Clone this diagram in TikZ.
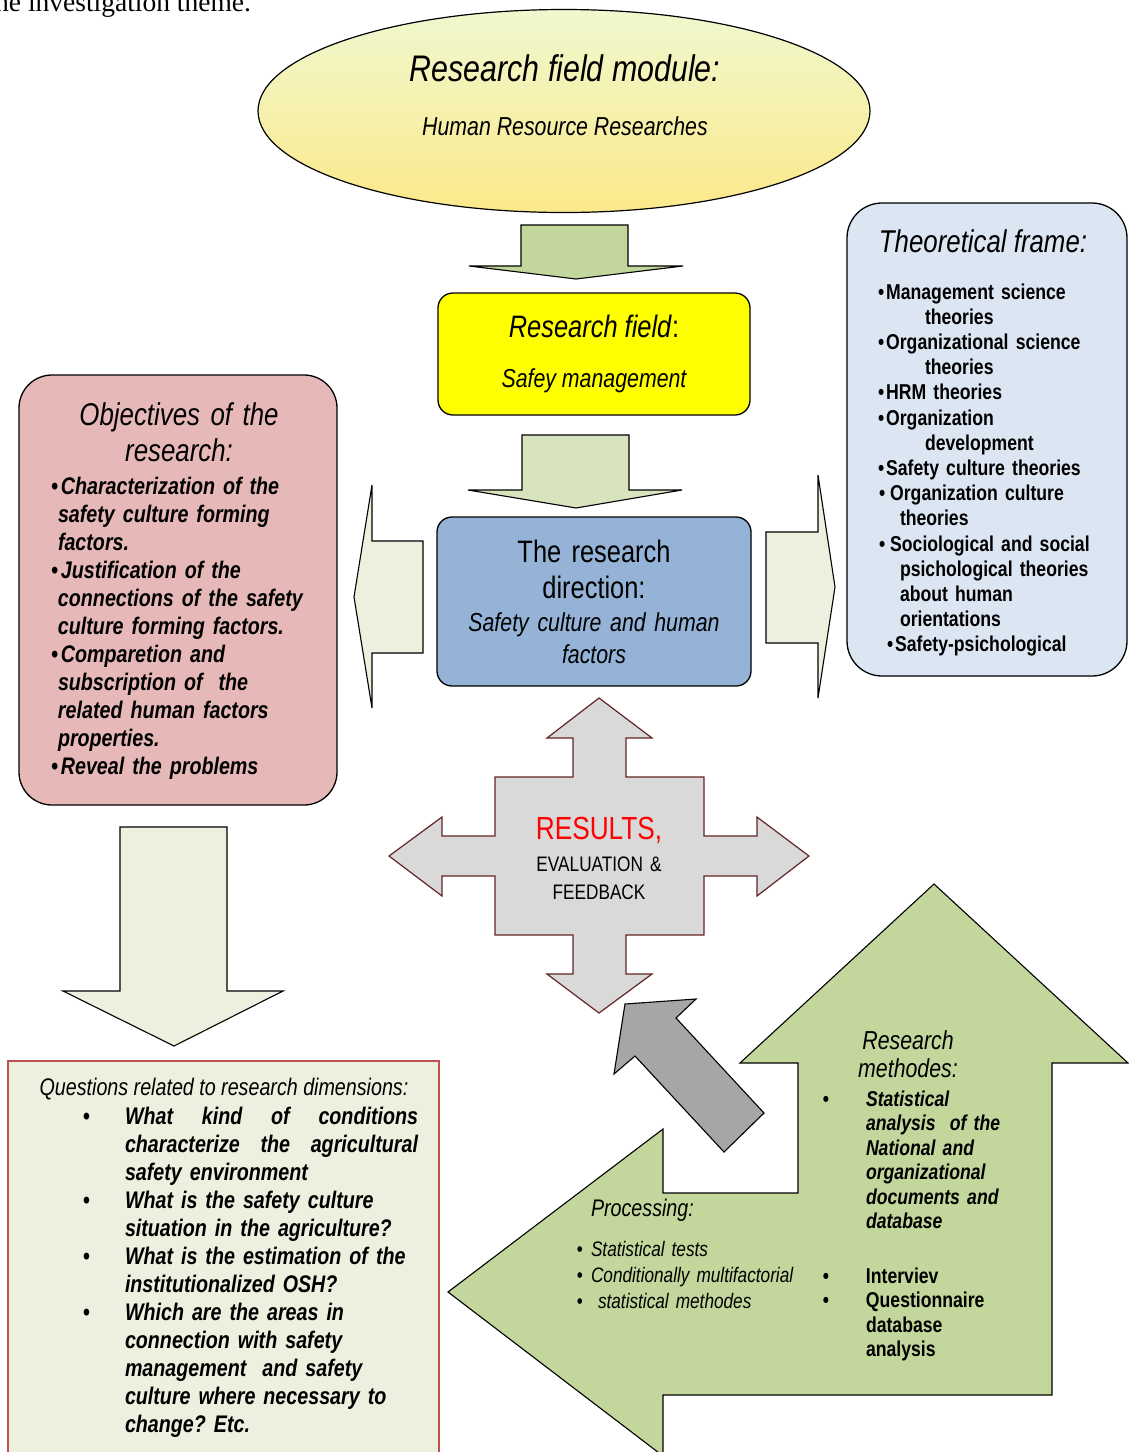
\documentclass[tikz,border=0pt]{standalone}
\usepackage{fontspec}
\setmainfont{Liberation Sans}[FakeStretch=0.82]
\newfontfamily\pagefont{Liberation Serif}
\usetikzlibrary{positioning, shapes.geometric, calc}
\frenchspacing

\definecolor{modtop}{HTML}{F0F8CF}
\definecolor{modbot}{HTML}{FCE98A}
\definecolor{fieldyellow}{HTML}{FFFF00}
\definecolor{dirblue}{HTML}{95B3D7}
\definecolor{objpink}{HTML}{E6B9B8}
\definecolor{theoblue}{HTML}{DCE6F2}
\definecolor{palegreen}{HTML}{EBF1DE}
\definecolor{midgreen}{HTML}{D7E4BD}
\definecolor{olive}{HTML}{C3D69B}
\definecolor{resgray}{HTML}{D9D9D9}
\definecolor{resedge}{HTML}{632523}
\definecolor{qedge}{HTML}{C0504D}
\definecolor{arrgray}{HTML}{A6A6A6}

\newcommand{\fsz}[2]{\fontsize{#1}{#2}\selectfont}
% bullet hung to the left of the text column
\newcommand{\hangbul}[1]{\leavevmode\llap{\upshape•\hspace{#1}}}

\begin{document}
\begin{tikzpicture}[
    x=1pt, y=-1pt,
    rbox/.style={draw, line width=1.3pt, rounded corners=15pt, inner sep=0pt},
    txt/.style={inner sep=0pt, outer sep=0pt},
    blk/.style={draw, line width=1.1pt, line join=miter},
]
\useasboundingbox (0,0) rectangle (1128,1452);

% ── page text above the figure ───────────────────────────────────────────────
\node[txt, anchor=base east, font=\pagefont\fsz{27.5}{30}] (theme) at (251,11)
    {the investigation theme.};

% ── research field module (ellipse) ──────────────────────────────────────────
\node[ellipse, draw, line width=1.2pt, inner sep=0pt, minimum width=612pt,
      minimum height=203pt, top color=modtop, bottom color=modbot] (mod) at (564,111) {};
\node[txt, anchor=base, font=\fsz{37}{44}\itshape] (modtitle) at (565,81)
    {Research field module:};
\node[txt, anchor=base, font=\fsz{26}{31}\itshape] (modsub) at (565,135)
    {Human Resource Researches};

\draw[blk, fill=olive] (521,225) -- (628,225) -- (628,266) -- (683,266)
    -- (576,279) -- (469,266) -- (521,266) -- cycle;

% ── research field ───────────────────────────────────────────────────────────
\node[rbox, fill=fieldyellow, minimum width=312pt, minimum height=122pt] (field) at (594,354) {};
\node[txt, anchor=base, font=\fsz{31}{36}] (fieldtitle) at (594,337)
    {\textit{Research field}:};
\node[txt, anchor=base, font=\fsz{26}{31}\itshape] (fieldsub) at (594,387)
    {Safey management};

\draw[blk, fill=midgreen] (522,435) -- (629,435) -- (629,490) -- (682,490)
    -- (576,508) -- (468,490) -- (522,490) -- cycle;

% ── research direction ───────────────────────────────────────────────────────
\node[rbox, fill=dirblue, minimum width=314pt, minimum height=169pt] (dir) at (594,601.5) {};
\node[txt, anchor=base, align=center, text width=300pt, font=\fsz{31}{36}] (dirtitle) at (594,562)
    {The research\\direction:};
\node[txt, anchor=base, align=center, text width=300pt, font=\fsz{26}{32}\itshape] (dirsub) at (594,631)
    {Safety culture and human\\factors};

% side arrows
\draw[blk, fill=palegreen] (423,541) -- (372,541) -- (372,485) -- (354,597)
    -- (372,708) -- (372,653) -- (423,653) -- cycle;
\draw[blk, fill=palegreen] (766,532) -- (818,532) -- (818,475) -- (835,587)
    -- (818,698) -- (818,643) -- (766,643) -- cycle;

% ── objectives ───────────────────────────────────────────────────────────────
\node[rbox, rounded corners=33pt, fill=objpink, minimum width=318pt, minimum height=430pt] (obj) at (178,590) {};
\node[txt, anchor=base, align=center, text width=300pt, font=\fsz{31.5}{36.5}\itshape] (objtitle) at (179,425)
    {Objectives of the\\research:};
\node[txt, anchor=base west, align=left, text width=285pt, font=\fsz{24}{28}\bfseries\itshape] (objlist) at (51,494)
    {•\kern3pt Characterization of the\\
     \hspace*{7pt}safety culture forming\\
     \hspace*{7pt}factors.\\
     •\kern3pt Justification of the\\
     \hspace*{7pt}connections of the safety\\
     \hspace*{7pt}culture forming factors.\\
     •\kern3pt Comparetion and\\
     \hspace*{7pt}subscription of\ \ the\\
     \hspace*{7pt}related human factors\\
     \hspace*{7pt}properties.\\
     •\kern3pt Reveal the problems};

% ── theoretical frame ────────────────────────────────────────────────────────
\node[rbox, rounded corners=35pt, fill=theoblue, minimum width=280pt, minimum height=473pt] (theo) at (987,439.5) {};
\node[txt, anchor=base, font=\fsz{31.5}{36}\itshape] (theotitle) at (983,252)
    {Theoretical frame:};
\node[txt, anchor=base west, align=left, text width=240pt, font=\fsz{21.5}{25.2}\bfseries] (theolist) at (878,299)
    {•\kern2pt Management science\\
     \hspace*{47pt}theories\\
     •\kern2pt Organizational science\\
     \hspace*{47pt}theories\\
     •\kern2pt HRM theories\\
     •\kern2pt Organization\\
     \hspace*{47pt}development\\
     •\kern2pt Safety culture theories\\
     \hspace*{1pt}•\kern5pt Organization culture\\
     \hspace*{22pt}theories\\
     \hspace*{1pt}•\kern5pt Sociological and social\\
     \hspace*{22pt}psichological theories\\
     \hspace*{22pt}about human\\
     \hspace*{22pt}orientations\\
     \hspace*{9pt}•\kern2pt Safety-psichological};

% ── results, evaluation & feedback ───────────────────────────────────────────
\draw[line width=1.2pt, draw=resedge, fill=resgray, line join=miter]
    (599,698) -- (652,738) -- (626,738) -- (626,777) -- (704,777) -- (704,836)
    -- (757,836) -- (757,817) -- (809,856) -- (757,896) -- (757,876) -- (704,876)
    -- (704,935) -- (626,935) -- (626,974) -- (652,974) -- (599,1013) -- (547,974)
    -- (573,974) -- (573,935) -- (495,935) -- (495,876) -- (442,876) -- (442,896)
    -- (389,856) -- (442,817) -- (442,836) -- (495,836) -- (495,777) -- (573,777)
    -- (573,738) -- (547,738) -- cycle;
\node[txt, anchor=base, text=red, font=\fsz{32}{36}] (res) at (599,839) {RESULTS,};
\node[txt, anchor=base, align=center, text width=180pt, font=\fsz{21}{28}] (evalfb) at (599,871)
    {EVALUATION \&\\FEEDBACK};

% ── questions ────────────────────────────────────────────────────────────────
\draw[blk, fill=palegreen] (120,827) -- (227,827) -- (227,991) -- (283,991)
    -- (174,1046) -- (63,991) -- (120,991) -- cycle;

\draw[line width=1.2pt, draw=qedge, fill=palegreen] (8,1061) rectangle (439,1470);
\node[txt, anchor=base, font=\fsz{24}{28}\itshape] (qtitle) at (224,1095)
    {Questions related to research dimensions:};
\node[txt, anchor=base west, align=left, text width=293pt, font=\fsz{24}{28}\bfseries\itshape] (qlist) at (125,1124)
    {\hangbul{35pt}What\hfill kind\hfill of\hfill conditions\\
     characterize\hfill the\hfill agricultural\\
     safety environment\\
     \hangbul{35pt}What is the safety culture\\
     situation in the agriculture?\\
     \hangbul{35pt}What is the estimation of the\\
     institutionalized OSH?\\
     \hangbul{35pt}Which are the areas in\\
     connection with safety\\
     management\ \ and safety\\
     culture where necessary to\\
     change? Etc.};

% ── methods and processing ───────────────────────────────────────────────────
\draw[blk, fill=olive] (934,884) -- (1128,1063) -- (1052,1063) -- (1052,1395)
    -- (663,1395) -- (663,1456) -- (448,1292) -- (663,1129) -- (663,1193)
    -- (798,1193) -- (798,1063) -- (740,1063) -- cycle;

\node[txt, anchor=base, align=center, text width=150pt, font=\fsz{26}{28}\itshape] (meth) at (908,1049)
    {Research\\methodes:};
\node[txt, anchor=base west, align=left, text width=180pt, font=\fsz{21.5}{24.5}\bfseries\itshape] (methlist) at (866,1106)
    {\hangbul{37pt}Statistical\\
     analysis\ \ of the\\
     National and\\
     organizational\\
     documents and\\
     database};
\node[txt, anchor=base west, align=left, text width=180pt, font=\fsz{21.5}{24.5}\bfseries] (methlist2) at (866,1283)
    {\hangbul{37pt}Interviev\\
     \hangbul{37pt}Questionnaire\\
     database\\
     analysis};

\node[txt, anchor=base west, font=\fsz{24}{28}\itshape] (proc) at (591,1216) {Processing:};
\node[txt, anchor=base west, align=left, text width=220pt, font=\fsz{21}{26}\itshape] (proclist) at (591,1256)
    {\hangbul{8pt}Statistical tests\\
     \hangbul{8pt}Conditionally multifactorial\\
     \hangbul{8pt}\ statistical methodes};

\draw[blk, fill=arrgray] (625,1004) -- (696,999) -- (676,1018) -- (764,1113)
    -- (724,1152) -- (635,1056) -- (614,1074) -- cycle;

\end{tikzpicture}
\end{document}
